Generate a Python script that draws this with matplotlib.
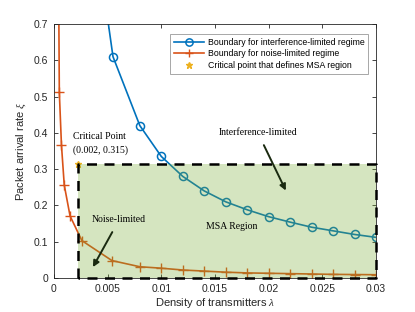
import matplotlib
matplotlib.use("Agg")
from matplotlib import pyplot as plt
import matplotlib.patches as mpatches
from matplotlib.ticker import FuncFormatter

plt.rcParams['font.family'] = ['Liberation Sans', 'DejaVu Sans']
plt.rcParams['mathtext.fontset'] = 'custom'
plt.rcParams['mathtext.it'] = 'Liberation Serif:italic'

# interference-limited boundary (blue)
lam_int = [0.005, 0.0055, 0.008, 0.010, 0.012, 0.014, 0.016, 0.018, 0.020, 0.022, 0.024, 0.026, 0.028, 0.030]
xi_int = [0.715, 0.61, 0.42, 0.335, 0.28, 0.24, 0.21, 0.188, 0.169, 0.154, 0.140, 0.130, 0.120, 0.112]

# noise-limited boundary (orange)
lam_noise = [0.00046, 0.0005, 0.0007, 0.00096, 0.0015, 0.0026, 0.0054, 0.008, 0.010, 0.012, 0.014,
             0.016, 0.018, 0.020, 0.022, 0.024, 0.026, 0.028, 0.030]
xi_noise = [0.70, 0.512, 0.366, 0.256, 0.171, 0.103, 0.048, 0.031, 0.027, 0.022, 0.019,
            0.016, 0.014, 0.013, 0.012, 0.011, 0.010, 0.0095, 0.009]

crit_lam = 0.0022
crit_xi = 0.315
lam_max = 0.03

blue = '#0072BD'
orange = '#D95319'
gold = '#EDB120'
green = '#77AC30'

fig = plt.figure(figsize=(4.15, 3.12), dpi=100)
ax = fig.add_axes([0.130, 0.109, 0.776, 0.814])

ax.plot(lam_int, xi_int, color=blue, lw=1.2, marker='o', markersize=5.8,
        markerfacecolor='none', markeredgewidth=1.1, markevery=list(range(1, len(lam_int))),
        label='Boundary for interference-limited regime')
ax.plot(lam_noise, xi_noise, color=orange, lw=1.2, marker='+', markersize=7,
        markeredgewidth=1.0, markevery=list(range(1, len(lam_noise))),
        label='Boundary for noise-limited regime')
ax.plot([crit_lam], [crit_xi], ls='none', marker='*', color=gold, markersize=5,
        label='Critical point that defines MSA region')

# MSA region, drawn over the curves
ax.add_patch(mpatches.Rectangle((crit_lam, 0), lam_max - crit_lam, crit_xi,
                                facecolor=green, alpha=0.3, edgecolor='none', zorder=3))
ax.plot([crit_lam, crit_lam, lam_max, lam_max, crit_lam], [0, crit_xi, crit_xi, 0, 0],
        color='black', lw=1.8, ls=(0, (4, 3)), zorder=4, clip_on=False)

serif = 'Liberation Serif'
ax.text(0.00177, 0.389, 'Critical Point', fontsize=7, family=serif, va='center', ha='left')
ax.text(0.00177, 0.353, '(0.002, 0.315)', fontsize=7, family=serif, va='center', ha='left')
ax.text(0.0166, 0.143, 'MSA Region', fontsize=7, family=serif, va='center', ha='center', zorder=5)

ax.annotate('Interference-limited', xy=(0.0216, 0.241), xytext=(0.019, 0.40),
            fontsize=7, family=serif, ha='center', va='center', zorder=5,
            arrowprops=dict(arrowstyle='-|>', color='#1a2a10', lw=1.4, mutation_scale=9,
                            shrinkA=4, shrinkB=0))
ax.annotate('Noise-limited', xy=(0.00363, 0.030), xytext=(0.00606, 0.160),
            fontsize=7, family=serif, ha='center', va='center', zorder=5,
            arrowprops=dict(arrowstyle='-|>', color='#1a2a10', lw=1.4, mutation_scale=9,
                            shrinkA=4, shrinkB=0))

ax.set_xlim(0, 0.03)
ax.set_ylim(0, 0.7)
ax.set_xticks([0, 0.005, 0.01, 0.015, 0.02, 0.025, 0.03])
ax.xaxis.set_major_formatter(FuncFormatter(lambda v, p: '0' if v == 0 else ('%g' % v)))
ax.set_yticks([0, 0.1, 0.2, 0.3, 0.4, 0.5, 0.6, 0.7])
ax.yaxis.set_major_formatter(FuncFormatter(lambda v, p: '0' if v == 0 else ('%.1f' % v)))
ax.tick_params(direction='in', top=True, right=True, length=3, width=0.6,
               labelsize=7.5, colors='#262626', labelcolor='#262626', pad=4)
for s in ax.spines.values():
    s.set_linewidth(0.6)
    s.set_color('#262626')

ax.set_xlabel('Density of transmitters $\\mathit{\\lambda}$', fontsize=8, color='#262626', labelpad=2)
ax.set_ylabel('Packet arrival rate $\\mathit{\\xi}$', fontsize=8, color='#262626', labelpad=4)

leg = ax.legend(loc='upper right', bbox_to_anchor=(0.983, 0.97), fontsize=6.3, frameon=True,
                fancybox=False, framealpha=1, edgecolor='#999999', handlelength=3.5,
                borderpad=0.4, labelspacing=0.3, handletextpad=0.4, markerscale=0.9,
                borderaxespad=0.3)
leg.get_frame().set_linewidth(0.6)

fig.savefig('out.png', dpi=100)
